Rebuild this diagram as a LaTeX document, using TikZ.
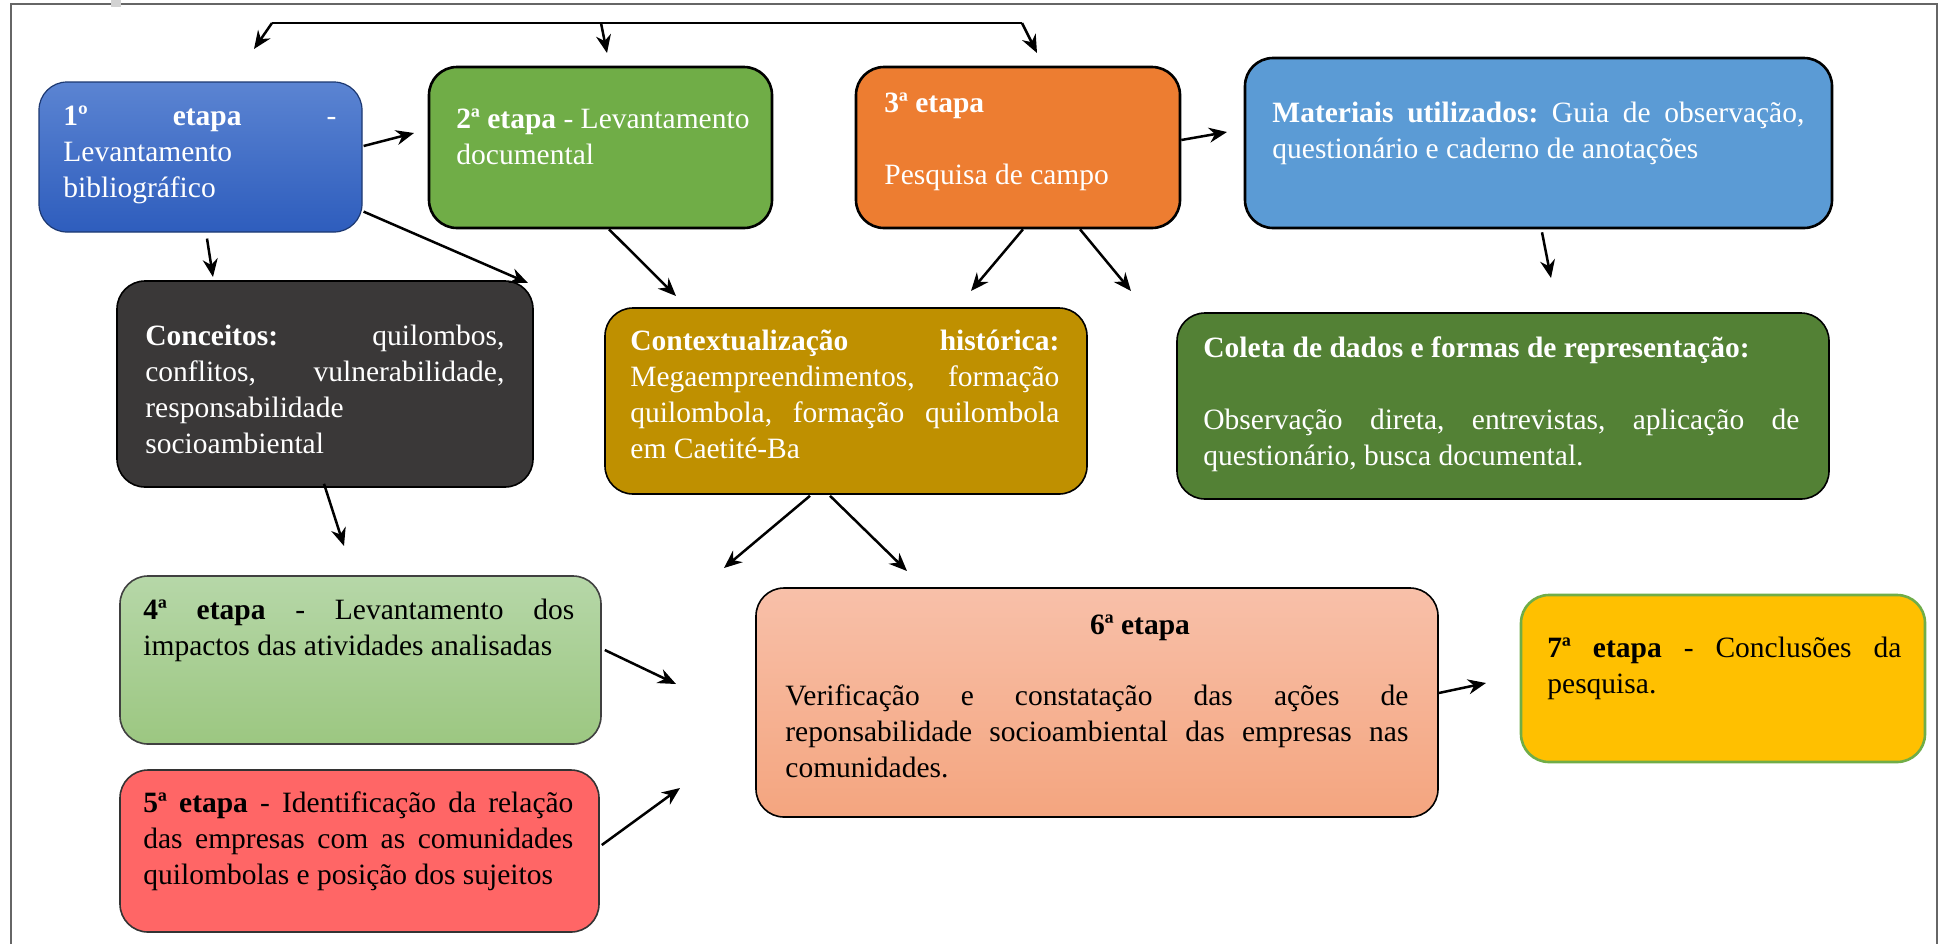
\documentclass[tikz,border=0pt]{standalone}
\usepackage{fontspec}
\setmainfont{Liberation Serif}
\usetikzlibrary{arrows.meta,calc,fit}
\setlength\parindent{0pt}
\definecolor{cBat}{HTML}{5B84D2}
\definecolor{cBab}{HTML}{2E5DBD}
\definecolor{cBb}{HTML}{70AD47}
\definecolor{cBc}{HTML}{ED7D31}
\definecolor{cBm}{HTML}{5B9BD5}
\definecolor{cBk}{HTML}{3A3838}
\definecolor{cBx}{HTML}{BF9000}
\definecolor{cBd}{HTML}{538135}
\definecolor{cBft}{HTML}{B6D7A8}
\definecolor{cBfb}{HTML}{9CC781}
\definecolor{cBr}{HTML}{FF6666}
\definecolor{cBst}{HTML}{F8C0A9}
\definecolor{cBsb}{HTML}{F4A57F}
\definecolor{cBy}{HTML}{FFC000}
\newcommand\nsp{\frenchspacing\spaceskip=0pt\relax\xspaceskip=0pt\relax}
\newcommand\jl[2]{\makebox[#1][s]{\nsp #2}}
\begin{document}
\begin{tikzpicture}[x=0.5pt,y=-0.5pt,
  bx/.style={inner sep=0pt, rounded corners=14pt, line width=1pt, draw=black},
  tx/.style={anchor=base west, inner sep=0pt, align=left, font=\fontsize{14.75}{18}\selectfont},
  wt/.style={text=white},
  arr/.style={line width=1.25pt, -{Stealth[length=9pt,width=7.5pt]}},
]
\useasboundingbox (0,0) rectangle (1944,944);
\fill[white] (0,0) rectangle (1944,944);
% frame
\draw[gray!80!black, line width=1pt] (10.5,944) -- (10.5,3.5) -- (1937,3.5) -- (1937,944);
\fill[gray!35] (111,0) rectangle (121,7);

% boxes
\node[bx, fit={(39,82) (362,232)}, top color=cBat, bottom color=cBab, draw=cBab!60!black, line width=0.6pt] (b1) {};
\node[bx, fit={(429,67) (772,228)}, fill=cBb, line width=1.3pt] (b2) {};
\node[bx, fit={(856,67) (1180,228)}, fill=cBc, line width=1.3pt] (b3) {};
\node[bx, fit={(1245,58) (1832,228)}, fill=cBm, line width=1.3pt] (bm) {};
\node[bx, fit={(117,281) (533,487)}, fill=cBk, line width=0.8pt] (bc) {};
\node[bx, fit={(605,308) (1087,494)}, fill=cBx, line width=0.8pt] (bq) {};
\node[bx, fit={(1177,313) (1829,499)}, fill=cBd, line width=0.8pt] (bd) {};
\node[bx, fit={(120,576) (601,744)}, top color=cBft, bottom color=cBfb, draw=black!75, line width=0.8pt] (b4) {};
\node[bx, fit={(120,770) (599,932)}, fill=cBr, draw=black!80, line width=0.8pt] (b5) {};
\node[bx, fit={(756,588) (1438,817)}, top color=cBst, bottom color=cBsb, line width=0.8pt] (b6) {};
\node[bx, fit={(1521,595) (1925,762)}, fill=cBy, draw=cBb, line width=1.3pt] (b7) {};

% texts
\node[tx, wt, text width=136.5pt] (t1) at (63,125) {\nsp\jl{136.5pt}{\textbf{1º etapa} -}\\Levantamento\\bibliográfico};
\node[tx, wt, text width=160pt] (t2) at (456,128) {\nsp\textbf{2ª etapa} - Levantamento\\documental};
\node[tx, wt, text width=150pt] (t3) at (884,112) {\nsp\textbf{3ª etapa}\\[18pt]Pesquisa de campo};
\node[tx, wt, text width=266pt] (tm) at (1272,122) {\nsp\jl{266pt}{\textbf{Materiais utilizados:} Guia de observação,}\\questionário e caderno de anotações};
\node[tx, wt, text width=179.5pt] (tc) at (145,345) {\nsp\jl{179.5pt}{\textbf{Conceitos:} quilombos,}\\\jl{179.5pt}{conflitos, vulnerabilidade,}\\responsabilidade\\socioambiental};
\node[tx, wt, text width=214.5pt] (tq) at (630,350) {\nsp\jl{214.5pt}{\textbf{Contextualização histórica:}}\\\jl{214.5pt}{Megaempreendimentos, formação}\\\jl{214.5pt}{quilombola, formação quilombola}\\em Caetité-Ba};
\node[tx, wt, text width=298pt] (td) at (1203,357) {\nsp\textbf{Coleta de dados e formas de representação:}\\[18pt]\jl{298pt}{Observação direta, entrevistas, aplicação de}\\questionário, busca documental.};
\node[tx, text width=215.5pt] (t4) at (143,619) {\nsp\jl{215.5pt}{\textbf{4ª etapa} - Levantamento dos}\\impactos das atividades analisadas};
\node[tx, text width=215pt] (t5) at (143,812) {\nsp\jl{215pt}{\textbf{5ª etapa} - Identificação da relação}\\\jl{215pt}{das empresas com as comunidades}\\quilombolas e posição dos sujeitos};
\node[tx, anchor=base] (t6h) at (1140,634) {\textbf{6ª etapa}};
\node[tx, text width=311.5pt] (t6) at (785,705) {\nsp\jl{311.5pt}{Verificação e constatação das ações de}\\\jl{311.5pt}{reponsabilidade socioambiental das empresas nas}\\comunidades.};
\node[tx, text width=177pt] (t7) at (1547,657) {\nsp\jl{177pt}{\textbf{7ª etapa} - Conclusões da}\\pesquisa.};

% top connector
\coordinate (tl) at (272,23);
\coordinate (tmid) at (601,23);
\coordinate (tr) at (1022,23);
\coordinate (el) at (254,49);
\coordinate (em) at (607,53);
\coordinate (er) at (1037,53);
\draw[line width=1.4pt] (tl) -- (tr);
\draw[arr] (tl) -- (el);
\draw[arr] (tmid) -- (em);
\draw[arr] (tr) -- (er);

% arrow ends
\coordinate (e1) at (414,133);
\coordinate (e2) at (213,277);
\coordinate (e3) at (528,283);
\coordinate (e4) at (676,296);
\coordinate (e5) at (971,291);
\coordinate (e6) at (1131,291);
\coordinate (e7) at (1227,132);
\coordinate (e8) at (1551,278);
\coordinate (e9) at (344,546);
\coordinate (e10) at (724,568);
\coordinate (e11) at (907,571);
\coordinate (e12) at (676,684);
\coordinate (e13) at (680,788);
\coordinate (e14) at (1486,683);

\draw[arr] ($(b1.east)+(1,-11)$) -- (e1);
\draw[arr] ($(b1.south)+(6.5,6)$) -- (e2);
\draw[arr] ($(b1.south east)+(1,-21)$) -- (e3);
\draw[arr] ($(b2.south)+(8.5,0)$) -- (e4);
\draw[arr] ($(b3.south)+(5,0)$) -- (e5);
\draw[arr] ($(b3.south)+(62,0)$) -- (e6);
\draw[arr] ($(b3.east)+(0,-7.5)$) -- (e7);
\draw[arr] ($(bm.south)+(3.5,3)$) -- (e8);
\draw[arr] ($(bc.south)+(-1,-4)$) -- (e9);
\draw[arr] ($(bq.south)+(-36,1)$) -- (e10);
\draw[arr] ($(bq.south)+(-16,1)$) -- (e11);
\draw[arr] ($(b4.east)+(3,-10)$) -- (e12);
\draw[arr] ($(b5.east)+(2,-6)$) -- (e13);
\draw[arr] ($(b6.east)+(0,-9.5)$) -- (e14);
\end{tikzpicture}
\end{document}
